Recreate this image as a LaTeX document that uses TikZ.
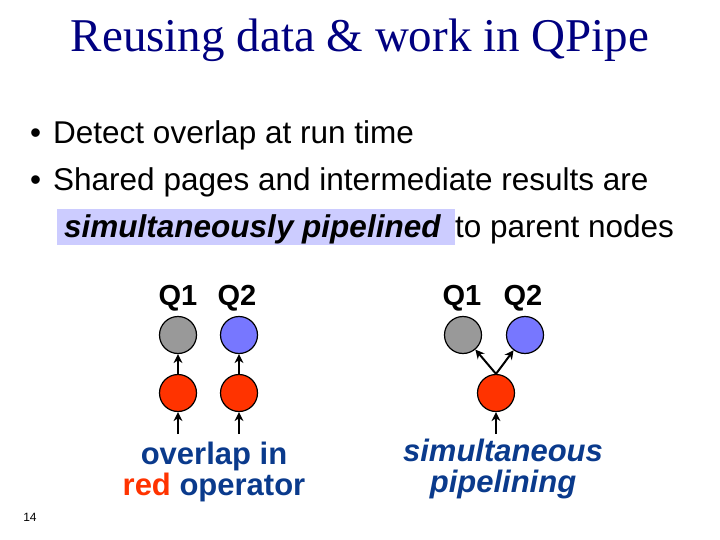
\documentclass[tikz,border=0pt]{standalone}
\usepackage{fontspec}
\usetikzlibrary{arrows.meta}
\setmainfont{Liberation Sans}
\newfontfamily\seriff{Liberation Serif}
\definecolor{navy}{HTML}{000080}
\definecolor{dblue}{HTML}{0A3A8C}
\definecolor{opred}{HTML}{FF3300}
\definecolor{opgray}{HTML}{999999}
\definecolor{opblue}{HTML}{7777FF}
\definecolor{hl}{HTML}{CCCCFF}
\begin{document}
\begin{tikzpicture}[x=1pt,y=-1pt,
  op/.style={circle,draw=black,line width=1.2pt,minimum size=37pt,inner sep=0pt},
  arr/.style={-{Stealth[length=9pt,width=9pt]},line width=2pt},
  txt/.style={inner sep=0pt,anchor=base west},
  ql/.style={font=\bfseries\fontsize{29}{34}\selectfont}]
\useasboundingbox (0,0) rectangle (720,540);
\node[font=\seriff\fontsize{47}{56}\selectfont,text=navy] (title) at (360,40) {Reusing data \& work in QPipe};
\node[txt,font=\fontsize{31.5}{36}\selectfont] (b1) at (30,144) {•\hspace{12pt}Detect overlap at run time};
\node[txt,font=\fontsize{31.5}{36}\selectfont] (b2) at (30,191) {•\hspace{12pt}Shared pages and intermediate results are};
\fill[hl] (57,209) rectangle (455,245);
\node[txt,font=\fontsize{31.5}{36}\selectfont] (b3) at (64,237) {\textbf{\textit{simultaneously pipelined}}\hspace{14pt}to parent nodes};
% left
\node[ql] (l1) at (178,298) {Q1};
\node[ql] (l2) at (237,298) {Q2};
\node[op,fill=opgray] (lg) at (178,335) {};
\node[op,fill=opblue] (lb) at (239,335) {};
\node[op,fill=opred] (lr1) at (178,393) {};
\node[op,fill=opred] (lr2) at (239,393) {};
\coordinate (li1) at (178,434);
\coordinate (li2) at (239,434);
\draw[arr] (lr1) -- (lg);
\draw[arr] (lr2) -- (lb);
\draw[arr] (li1) -- (lr1);
\draw[arr] (li2) -- (lr2);
% right
\node[ql] (r1) at (462,298) {Q1};
\node[ql] (r2) at (523,298) {Q2};
\node[op,fill=opgray] (rg) at (463,335) {};
\node[op,fill=opblue] (rb) at (525,335) {};
\node[op,fill=opred] (rr) at (496,393) {};
\coordinate (ri) at (496,434);
\draw[arr] (rr.north) -- (rg);
\draw[arr] (rr.north) -- (rb);
\draw[arr] (ri) -- (rr);
% captions
\node[align=center,text=dblue,font=\bfseries\fontsize{31}{31}\selectfont] (cl) at (214,472) {overlap in\\\textcolor{opred}{red} operator};
\node[align=center,text=dblue,font=\bfseries\itshape\fontsize{31}{31}\selectfont] (cr) at (503,469) {simultaneous\\pipelining};
\node[font=\fontsize{12}{14}\selectfont] (pg) at (30,517) {14};
\end{tikzpicture}
\end{document}
